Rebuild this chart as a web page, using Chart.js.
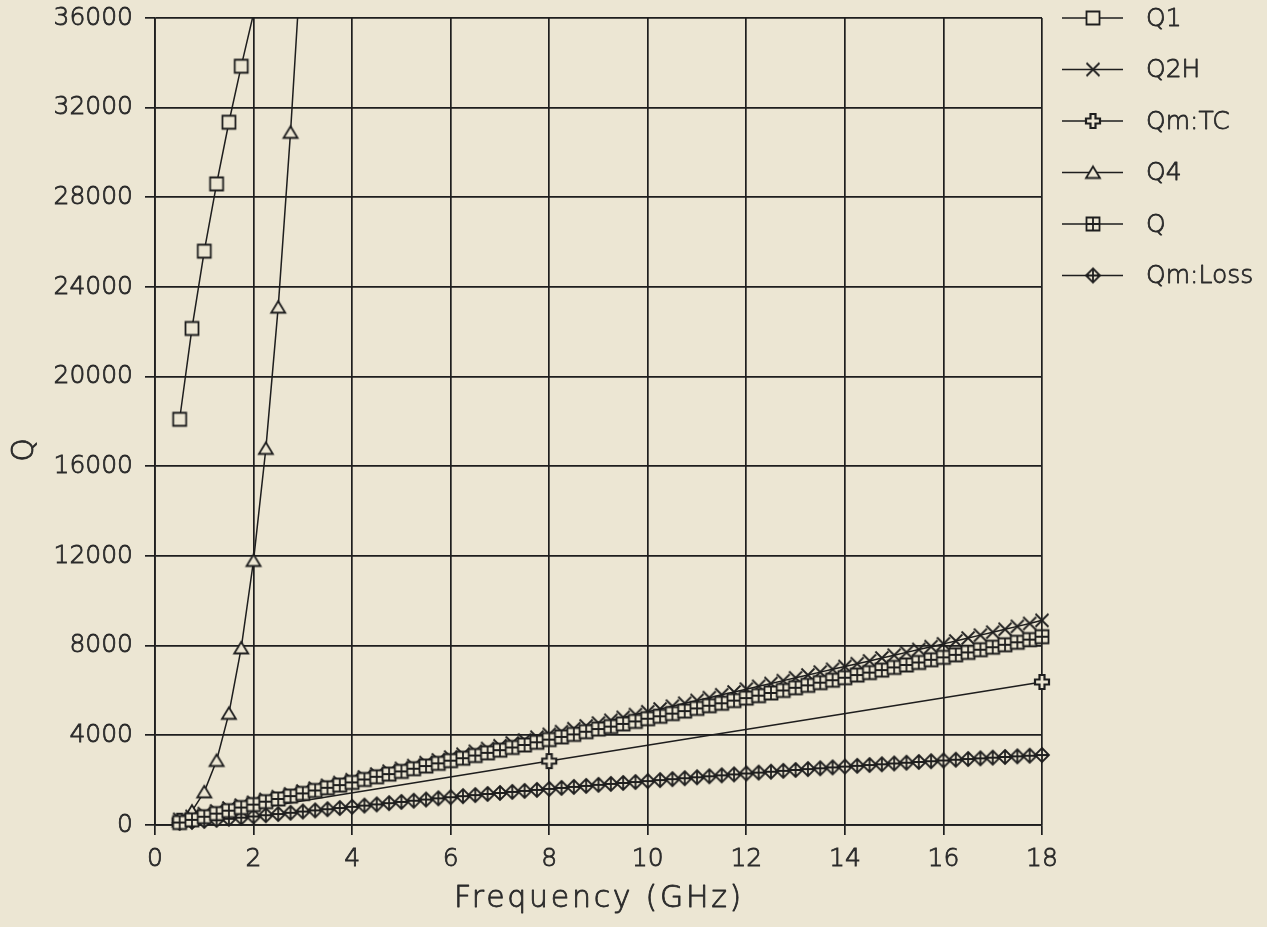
<!DOCTYPE html>
<html>
<head>
<meta charset="utf-8">
<title>Q vs Frequency</title>
<script src="https://cdn.jsdelivr.net/npm/chart.js@4.4.1/dist/chart.umd.min.js"></script>
<style>
  html, body { margin: 0; padding: 0; background: #ece6d3; }
  #chart { display: block; }
</style>
</head>
<body>
<canvas id="chart" width="1267" height="927"></canvas>
<script>
// frequency points (GHz)
const freq = [0.5,0.75,1,1.25,1.5,1.75,2,2.25,2.5,2.75,3,3.25,3.5,3.75,4,4.25,4.5,4.75,5,5.25,5.5,5.75,6,6.25,6.5,6.75,7,7.25,7.5,7.75,8,8.25,8.5,8.75,9,9.25,9.5,9.75,10,10.25,10.5,10.75,11,11.25,11.5,11.75,12,12.25,12.5,12.75,13,13.25,13.5,13.75,14,14.25,14.5,14.75,15,15.25,15.5,15.75,16,16.25,16.5,16.75,17,17.25,17.5,17.75,18];
const tcFreq = [0.5, 8, 18];

const q1 = [18100, 22150, 25600, 28600, 31350, 33850, 36200];
const q2h = [250,380,505,630,760,885,1010,1140,1265,1390,1515,1640,1770,1895,2020,2145,2275,2400,2525,2650,2780,2905,3030,3155,3285,3410,3535,3660,3790,3915,4040,4165,4295,4420,4545,4670,4800,4925,5050,5175,5300,5430,5555,5680,5810,5935,6060,6185,6310,6440,6565,6690,6820,6945,7070,7195,7320,7450,7575,7700,7830,7955,8080,8210,8340,8470,8600,8730,8860,8990,9130];
const qmTC = [190, 2850, 6380];
const q4 = [180, 620, 1480, 2880, 4980, 7900, 11800, 16800, 23100, 30900, 39800];
const qTot = [110,230,370,510,640,780,910,1040,1160,1290,1410,1540,1660,1780,1900,2030,2150,2270,2390,2510,2630,2750,2870,2980,3100,3220,3340,3460,3570,3690,3810,3930,4040,4160,4280,4390,4510,4620,4740,4850,4970,5080,5200,5320,5430,5550,5660,5770,5890,6000,6120,6230,6350,6460,6570,6690,6800,6910,7030,7140,7250,7370,7480,7590,7700,7820,7930,8040,8150,8270,8400];
const qmLoss = [90,135,180,228,278,328,380,435,490,545,600,652,705,758,810,865,920,975,1030,1083,1135,1188,1240,1288,1335,1383,1430,1475,1520,1565,1610,1655,1700,1745,1790,1832,1875,1918,1960,2003,2045,2088,2130,2173,2215,2258,2300,2339,2378,2416,2455,2493,2530,2568,2605,2640,2675,2710,2745,2779,2813,2846,2880,2911,2943,2974,3005,3034,3063,3091,3120];

const labels = ['Q1', 'Q2H', 'Qm:TC', 'Q4', 'Q', 'Qm:Loss'];
const xTicks = [0, 2, 4, 6, 8, 10, 12, 14, 16, 18];
const yTicks = [0, 4000, 8000, 12000, 16000, 20000, 24000, 28000, 32000, 36000];

const bg = '#ece6d3';
const ink = '#1e1e1e';
const txt = '#2a2a2a';
const font = 'DejaVu Sans';
const weight = 200;
const textStroke = 0.8;

// small canvases used as point styles
function marker(kind) {
  const m = document.createElement('canvas');
  m.width = 20; m.height = 20;
  const c = m.getContext('2d');
  c.strokeStyle = ink;
  c.fillStyle = bg;
  c.lineWidth = 1.8;
  c.beginPath();
  if (kind === 'square' || kind === 'squarePlus') {
    c.rect(3.5, 3.5, 13, 13);
    c.fill(); c.stroke();
    if (kind === 'squarePlus') {
      c.beginPath();
      c.moveTo(10, 3.5); c.lineTo(10, 16.5);
      c.moveTo(3.5, 10); c.lineTo(16.5, 10);
      c.stroke();
    }
  } else if (kind === 'x') {
    c.moveTo(3.5, 3.5); c.lineTo(16.5, 16.5);
    c.moveTo(16.5, 3.5); c.lineTo(3.5, 16.5);
    c.stroke();
  } else if (kind === 'triangle') {
    c.moveTo(10, 4); c.lineTo(17, 15.5); c.lineTo(3, 15.5); c.closePath();
    c.fill(); c.stroke();
  } else if (kind === 'cross') {
    c.lineWidth = 2.2;
    c.moveTo(7.5, 3); c.lineTo(12.5, 3); c.lineTo(12.5, 7.5); c.lineTo(17, 7.5);
    c.lineTo(17, 12.5); c.lineTo(12.5, 12.5); c.lineTo(12.5, 17); c.lineTo(7.5, 17);
    c.lineTo(7.5, 12.5); c.lineTo(3, 12.5); c.lineTo(3, 7.5); c.lineTo(7.5, 7.5);
    c.closePath();
    c.fill(); c.stroke();
  } else if (kind === 'diamondPlus') {
    c.moveTo(10, 3); c.lineTo(17, 10); c.lineTo(10, 17); c.lineTo(3, 10); c.closePath();
    c.fill(); c.stroke();
    c.beginPath();
    c.moveTo(10, 3); c.lineTo(10, 17);
    c.moveTo(3, 10); c.lineTo(17, 10);
    c.stroke();
  }
  return m;
}

const markers = [marker('square'), marker('x'), marker('cross'), marker('triangle'), marker('squarePlus'), marker('diamondPlus')];

function series(i, xs, ys, order) {
  return {
    label: labels[i],
    data: ys.map((y, k) => ({ x: xs[k], y: y })),
    borderColor: ink,
    borderWidth: 1.5,
    backgroundColor: bg,
    pointStyle: markers[i],
    pointRadius: ctx => (ctx.raw && ctx.raw.y > 36000) ? 0 : 7,
    pointHoverRadius: ctx => (ctx.raw && ctx.raw.y > 36000) ? 0 : 7,
    tension: 0,
    fill: false,
    // keep the top edge tight so steep curves stop at 36000, let end markers show whole
    clip: { top: 0, left: 12, right: 12, bottom: 12 },
    order: order
  };
}

function label(c, s, x, y) {
  c.strokeText(s, x, y);
  c.fillText(s, x, y);
}

const paper = {
  id: 'paper',
  beforeDraw(chart) {
    const c = chart.ctx;
    c.save();
    c.fillStyle = bg;
    c.fillRect(0, 0, chart.width, chart.height);
    c.restore();
  },
  afterDraw(chart) {
    const c = chart.ctx;
    c.save();
    c.fillStyle = txt;
    c.lineJoin = 'round';
    // legend: line with marker, then label
    c.font = weight + ' 25px "' + font + '"';
    c.textBaseline = 'middle';
    c.textAlign = 'left';
    labels.forEach((lab, i) => {
      const y = 18 + i * 51.5;
      c.strokeStyle = ink;
      c.lineWidth = 1.7;
      c.beginPath();
      c.moveTo(1062, y); c.lineTo(1123, y);
      c.stroke();
      c.drawImage(markers[i], 1093 - 10, y - 10);
      c.strokeStyle = txt;
      c.lineWidth = textStroke;
      label(c, lab, 1146, y + 1);
    });
    // axis titles
    c.strokeStyle = txt;
    c.lineWidth = textStroke;
    c.font = weight + ' 30px "' + font + '"';
    c.textBaseline = 'alphabetic';
    c.textAlign = 'center';
    c.letterSpacing = '2.7px';
    label(c, 'Frequency (GHz)', 599, 907);
    c.letterSpacing = '0px';
    c.translate(33, 450);
    c.rotate(-Math.PI / 2);
    label(c, 'Q', 0, 0);
    c.restore();
  }
};

new Chart(document.getElementById('chart'), {
  type: 'line',
  data: {
    datasets: [
      series(0, freq, q1, 1),
      series(1, freq, q2h, 1),
      series(2, tcFreq, qmTC, 1),
      series(3, freq, q4, 1),
      series(4, freq, qTot, 0),
      series(5, freq, qmLoss, 1)
    ]
  },
  options: {
    responsive: false,
    animation: false,
    events: [],
    layout: { padding: { top: 18, right: 225, left: 0, bottom: 0 } },
    plugins: { legend: { display: false }, tooltip: { enabled: false } },
    scales: {
      x: {
        type: 'linear',
        min: 0,
        max: 18,
        afterBuildTicks: s => { s.ticks = xTicks.map(v => ({ value: v })); },
        afterFit: s => { s.height = 102; s.paddingLeft = 0; s.paddingRight = 0; },
        ticks: { color: txt, font: { family: font, size: 25, weight: weight }, textStrokeColor: txt, textStrokeWidth: textStroke, padding: 9, maxRotation: 0, autoSkip: false },
        grid: { color: ink, lineWidth: 1.7, tickLength: 10 },
        border: { color: ink, width: 1.7 }
      },
      y: {
        type: 'linear',
        min: 0,
        max: 36000,
        afterBuildTicks: s => { s.ticks = yTicks.map(v => ({ value: v })); },
        afterFit: s => { s.width = 155; s.paddingTop = 0; s.paddingBottom = 0; },
        ticks: { color: txt, font: { family: font, size: 25, weight: weight }, textStrokeColor: txt, textStrokeWidth: textStroke, padding: 12, autoSkip: false, callback: v => String(v) },
        grid: { color: ink, lineWidth: 1.7, tickLength: 10 },
        border: { color: ink, width: 1.7 }
      }
    }
  },
  plugins: [paper]
});
</script>
</body>
</html>
